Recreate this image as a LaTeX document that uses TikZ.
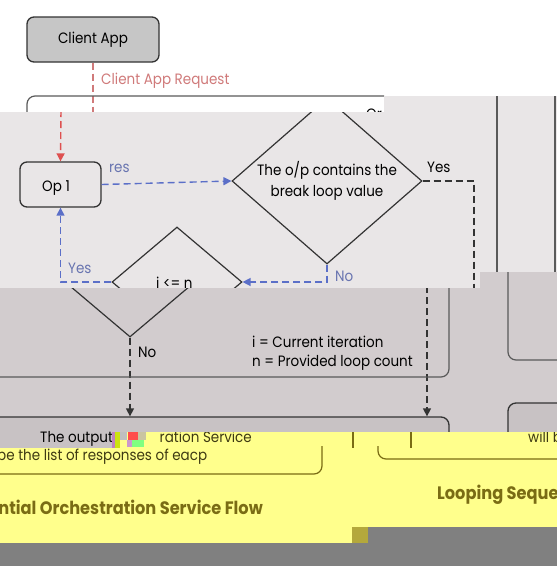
\documentclass[tikz,border=0pt]{standalone}
\usepackage{fontspec}
\setmainfont{Poppins}[FakeStretch=0.9]
\usetikzlibrary{arrows.meta,shapes.geometric}
\definecolor{lightbg}{HTML}{E9E6E7}
\definecolor{darkbg}{HTML}{D2CCCE}
\definecolor{outfill}{HTML}{C8C2C4}
\definecolor{clientfill}{HTML}{C6C6C6}
\definecolor{yel}{HTML}{FFFF8C}
\definecolor{olive}{HTML}{7A6C14}
\definecolor{olivedark}{HTML}{3E3A12}
\definecolor{patchc}{HTML}{B4A83C}
\definecolor{botgray}{HTML}{808080}
\definecolor{reqred}{HTML}{DE5050}
\definecolor{reqtext}{HTML}{D07A7A}
\definecolor{flowblue}{HTML}{5B6FC8}
\definecolor{bluetext}{HTML}{6874B0}
\definecolor{edgec}{HTML}{333333}
\definecolor{panelc}{HTML}{5A5A5A}
\newcommand{\fsz}{\fontsize{15}{21}\selectfont}
\tikzset{
  box/.style={draw=edgec, line width=1.3pt, rounded corners=7pt, inner sep=0pt},
  dia/.style={diamond, draw=edgec, line width=1.2pt, inner sep=0pt},
  dsh/.style={dash pattern=on 7pt off 4pt, line width=1.4pt},
  tip/.style={-{Triangle[length=8pt,width=8pt]}},
  redflow/.style={dsh, draw=reqred, tip},
  reqline/.style={dsh, draw=reqtext},
  blueflow/.style={dsh, draw=flowblue, tip},
  blackflow/.style={dsh, draw=edgec, tip},
  blackline/.style={dsh, draw=edgec},
  panel/.style={draw=panelc, line width=1.2pt},
  oliveline/.style={draw=olive, line width=1.2pt},
  lbl/.style={anchor=base west, inner sep=0pt},
  title/.style={font=\fontsize{18}{22}\selectfont\bfseries, text=olive, inner sep=0pt}
}
\begin{document}
\begin{tikzpicture}[x=1pt,y=-1pt,font=\fsz]
\useasboundingbox (0,0) rectangle (557,566);
\fill[white] (0,0) rectangle (557,566);

% ---------- white region ----------
\node[box, fill=clientfill, minimum width=132pt, minimum height=45pt] (client) at (93,39.5) {Client App};
\coordinate (reqend) at (93,112);
\draw[reqline] (client.south) -- (reqend);
\node[lbl, text=reqtext] (reqlabel) at (101,84) {Client App Request};
\draw[panel, rounded corners=8pt] (27,114) -- (27,96) -- (384,96);
\begin{scope}
  \clip (360,96) rectangle (384,112);
  \node[lbl] (ortext) at (366,119) {Or};
\end{scope}

% ---------- light region ----------
\fill[lightbg] (0,112) rectangle (480,288);
\fill[lightbg] (384,96) rectangle (557,272);
\begin{scope}
  \clip (0,112) rectangle (480,288) (384,96) rectangle (557,272);
  \coordinate (redtop) at (61,110);
  \node[box, minimum width=81pt, minimum height=45pt] (op1) at (60.5,184.5) {};
  \node[lbl] (op1t) at (42,191) {Op 1};
  \draw[redflow] (redtop) -- (op1.north);
  \node[dia, minimum width=190pt, minimum height=166pt] (d1) at (327,181) {};
  \node[align=center, inner sep=0pt] (d1t) at (327,181) {The o/p contains the\\break loop value};
  \node[dia, minimum width=130pt, minimum height=110pt] (d2) at (177,282) {};
  \node[lbl] (d2t) at (156,288) {i <= n};
  \draw[blueflow] (op1.east) -- (d1.west);
  \node[lbl, text=bluetext] (res) at (109,172) {res};
  \coordinate (yescorner) at (474,181);
  \coordinate (yesdown) at (474,292);
  \draw[blackline] (d1.east) -- (yescorner) -- (yesdown);
  \node[lbl] (yes1) at (427,172) {Yes};
  \draw[blueflow] (d1.south) -- (d1.south |- d2.east) -- (d2.east);
  \node[lbl, text=bluetext] (no1) at (335,281) {No};
  \draw[blueflow] (d2.west) -- (op1.south |- d2.west) -- (op1.south);
  \node[lbl, text=bluetext] (yes2) at (68,273) {Yes};
  \draw[panel] (497,94) -- (497,274);
  \draw[panel] (555,94) -- (555,274);
\end{scope}

% ---------- dark region ----------
\fill[darkbg] (0,288) rectangle (557,432);
\fill[darkbg] (480,272) rectangle (557,288);
\begin{scope}
  \clip (0,288) rectangle (557,432) (480,272) rectangle (557,288) (0,432) rectangle (112,448);
  \node[dia, minimum width=130pt, minimum height=110pt] (d2s) at (130,282) {};
  \node[lbl] (no2) at (138,357) {No};
  \node[box, fill=outfill, rounded corners=8pt, minimum width=469pt, minimum height=70pt] (out) at (214.5,452) {};
  \draw[blackflow] (d2s.south) -- (d2s.south |- out.north);
  \coordinate (yesdowns) at (427,286);
  \draw[blackflow] (yesdowns) -- (yesdowns |- out.north);
  \draw[panel, rounded corners=8pt] (-10,377) -- (449,377) -- (449,270);
  \draw[panel, rounded corners=8pt] (508,270) -- (508,360) -- (570,360);
  \node[box, fill=outfill, rounded corners=8pt, minimum width=120pt, minimum height=80pt] (out2) at (568,443) {};
  \node[lbl] (iter) at (252,347) {i = Current iteration};
  \node[lbl] (cnt) at (252,366) {n = Provided loop count};
  \node[lbl] (outt) at (40,442) {The output v};
\end{scope}

% ---------- yellow region ----------
\fill[yel] (112,432) rectangle (557,448);
\fill[yel] (0,448) rectangle (557,527);
\fill[yel] (0,527) rectangle (352,543);
\fill[patchc] (352,527) rectangle (368,543);
\fill[botgray] (0,543) rectangle (557,566);
\fill[botgray] (368,527) rectangle (557,543);
\begin{scope}
  \clip (112,432) rectangle (557,448) (0,448) rectangle (557,527) (0,527) rectangle (352,543);
  \node[lbl, text=olivedark, anchor=base east] (outty) at (252,442) {ration Service};
  \fill[violet!50] (112,432) rectangle (115,448);
  \fill[yellow!80!green] (115,432) rectangle (120,448);
  \fill[gray!50] (120,432) rectangle (127,440);
  \fill[red!70] (128,432) rectangle (138,440);
  \fill[olive!40] (138,432) rectangle (146,440);
  \fill[violet!40] (127,440) rectangle (132,447);
  \fill[green!50] (132,440) rectangle (144,447);
  \draw[oliveline] (353,430) -- (353,448);
  \draw[oliveline] (411,430) -- (411,448);
  \node[lbl, text=olivedark] (willbe) at (528,442) {will be};
  \node[lbl, text=olivedark] (listt) at (-3,460) {be the list of responses of eacp};
  \draw[oliveline, rounded corners=8pt] (322,446) -- (322,474) -- (-10,474);
  \draw[oliveline, rounded corners=8pt] (378,446) -- (378,459) -- (570,459);
  \node[title, anchor=base east] (title1) at (263,514) {Sequential Orchestration Service Flow};
  \node[title, anchor=base west] (title2) at (437,499) {Looping Sequential Orchestration Service Flow};
\end{scope}
\end{tikzpicture}
\end{document}
